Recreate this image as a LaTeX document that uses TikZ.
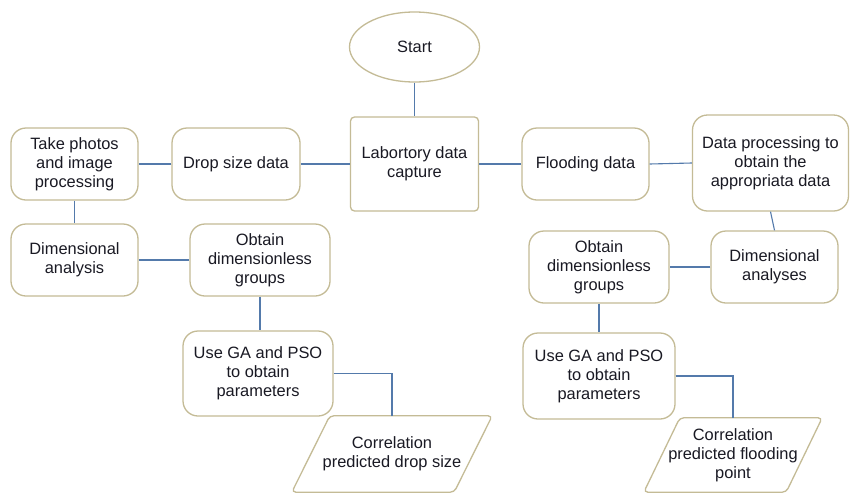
\documentclass[tikz,border=0pt]{standalone}
\usepackage{fontspec}
\setmainfont{Liberation Sans}
\usetikzlibrary{shapes.geometric}
\definecolor{boxline}{RGB}{196,187,150}
\definecolor{conn}{RGB}{84,122,171}
\definecolor{txt}{RGB}{25,25,35}
\begin{document}
\begin{tikzpicture}[x=1pt,y=-1pt,
  every node/.style={font=\fontsize{16.4}{19}\selectfont, text=txt, align=center, inner sep=0pt},
  rbox/.style={draw=boxline, line width=1.3pt, rounded corners=15pt, fill=white},
  labbox/.style={draw=boxline, line width=1.3pt, rounded corners=4pt, fill=white},
  startshape/.style={ellipse, draw=boxline, line width=1.3pt, fill=white},
  iobox/.style={draw=none},
  iodraw/.style={draw=boxline, line width=1.3pt, rounded corners=4pt},
  link/.style={draw=conn, line width=1.1pt}
]
\useasboundingbox (0,0) rectangle (850,493);
\fill[white] (0,0) rectangle (850,493);

\node[startshape, minimum width=130, minimum height=70] (start) at (414.5,47) {Start};
\node[labbox, minimum width=128, minimum height=94] (lab) at (414.5,164) {Labortory data\\capture};
\node[rbox, minimum width=127, minimum height=72] (photos) at (74.5,164) {Take photos\\and image\\processing};
\node[rbox, minimum width=128, minimum height=72] (drop) at (236,164) {Drop size data};
\node[rbox, minimum width=127, minimum height=72] (dimL) at (74.5,260) {Dimensional\\analysis};
\node[rbox, minimum width=140, minimum height=72] (obtL) at (260,260) {Obtain\\dimensionless\\groups};
\node[rbox, minimum width=150, minimum height=85] (useL) at (258,373.5) {Use GA and PSO\\to obtain\\parameters};
\node[iobox, minimum width=162, minimum height=76] (corrL) at (392,454) {Correlation\\predicted drop size};

\node[rbox, minimum width=127, minimum height=72] (flood) at (585.5,164) {Flooding data};
\node[rbox, minimum width=156, minimum height=96] (proc) at (770.5,163) {Data processing to\\obtain the\\appropriata data};
\node[rbox, minimum width=127, minimum height=72] (dimR) at (774.5,267) {Dimensional\\analyses};
\node[rbox, minimum width=140, minimum height=72] (obtR) at (599,267) {Obtain\\dimensionless\\groups};
\node[rbox, minimum width=152, minimum height=86] (useR) at (599,376) {Use GA and PSO\\to obtain\\parameters};
\node[iobox, minimum width=142, minimum height=74] (corrR) at (733,455) {Correlation\\predicted flooding\\point};

% parallelogram outlines
\path[iodraw] ([xshift=19]corrL.north west) -- ([xshift=19]corrL.north east) -- ([xshift=-19]corrL.south east) -- ([xshift=-19]corrL.south west) -- cycle;
\path[iodraw] ([xshift=18]corrR.north west) -- ([xshift=18]corrR.north east) -- ([xshift=-18]corrR.south east) -- ([xshift=-18]corrR.south west) -- cycle;

\draw[link] (start.south) -- (lab.north);
\draw[link] (lab.west) -- (drop.east);
\draw[link] (drop.west) -- (photos.east);
\draw[link] (photos.south) -- (dimL.north);
\draw[link] (dimL.east) -- (obtL.west);
\draw[link] (obtL.south) -- (obtL.south |- useL.north);
\draw[link] (useL.east) -| (corrL.north);
\draw[link] (lab.east) -- (flood.west);
\draw[link] (flood.east) -- (proc.west);
\draw[link] (proc.south) -- (dimR.north);
\draw[link] (dimR.west) -- (obtR.east);
\draw[link] (obtR.south) -- (obtR.south |- useR.north);
\draw[link] (useR.east) -| (corrR.north);
\end{tikzpicture}
\end{document}
